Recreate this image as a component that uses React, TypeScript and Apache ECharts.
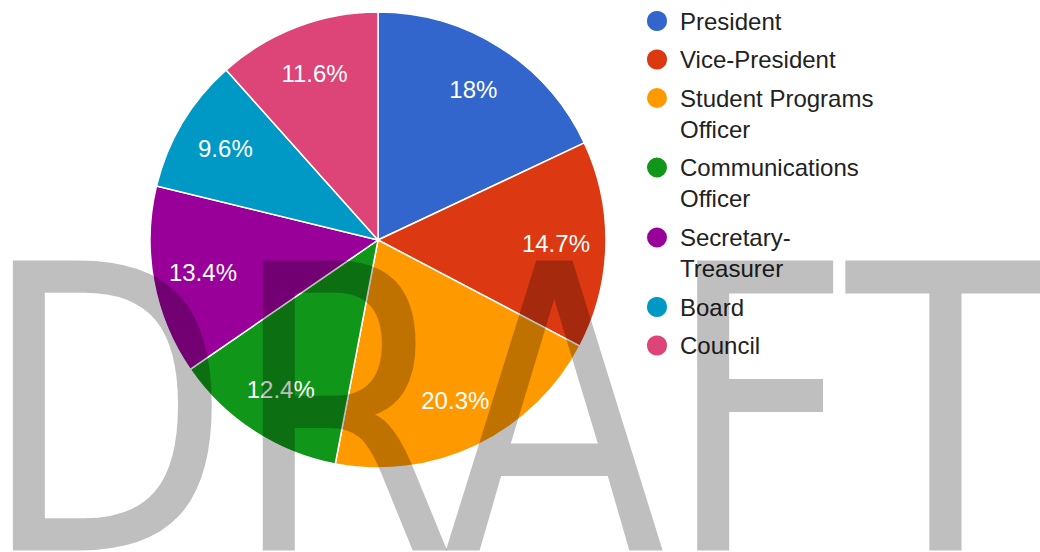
import React, { useEffect, useRef } from "react";
import * as echarts from "echarts";

// Share of the vote per office (percent)
const offices = [
  "President",
  "Vice-President",
  "Student Programs Officer",
  "Communications Officer",
  "Secretary-Treasurer",
  "Board",
  "Council",
];
const shares = [18, 14.7, 20.3, 12.4, 13.4, 9.6, 11.6];
const sliceColors = ["#3366cc", "#dc3912", "#ff9900", "#109618", "#990099", "#0099c6", "#dd4477"];

// Legend names broken onto two lines
const legendLines: Record<string, string> = {
  "Student Programs Officer": "Student Programs\nOfficer",
  "Communications Officer": "Communications\nOfficer",
  "Secretary-Treasurer": "Secretary-\nTreasurer",
};

// Vertical centre of each legend entry's first line
const legendRows = [21, 59.5, 98, 167.5, 237.5, 307, 345.5];

const FONT = '"Liberation Sans", Arial, sans-serif';
const LINE = 31;

// Dot at the top of a two-line entry: a 22px circle centred in a 36-wide box,
// with corner points so the box spans both text lines.
const TOP_DOT = "path://M0,0M36,53M7,11A11,11,0,1,1,29,11A11,11,0,1,1,7,11Z";

export default function App() {
  const ref = useRef<HTMLDivElement>(null);

  useEffect(() => {
    document.body.style.margin = "0";
    const chart = echarts.init(ref.current!, undefined, { renderer: "svg" });
    const data = offices.map((name, i) => ({ name, value: shares[i] }));

    const legends = offices.map((name, i) => {
      const wrapped = !!legendLines[name];
      return {
        orient: "vertical",
        left: wrapped ? 638 : 645,
        top: legendRows[i] - LINE / 2,
        padding: 0,
        itemWidth: 36,
        itemHeight: wrapped ? 22 + LINE : 22,
        icon: wrapped ? TOP_DOT : "circle",
        selectedMode: false,
        textStyle: { fontFamily: FONT, fontSize: 24, color: "#222222", lineHeight: LINE },
        formatter: (n: string) => legendLines[n] ?? n,
        data: [name],
      };
    });

    chart.setOption({
      animation: false,
      backgroundColor: "#ffffff",
      color: sliceColors,
      legend: legends,
      series: [
        {
          type: "pie",
          center: [378, 240],
          radius: [0, 228],
          startAngle: 90,
          clockwise: true,
          silent: true,
          label: { show: false },
          labelLine: { show: false },
          itemStyle: { borderColor: "#ffffff", borderWidth: 1.5 },
          data,
        },
        {
          // transparent ring that carries the percentage labels
          type: "pie",
          center: [378, 240],
          radius: [122, 228],
          startAngle: 90,
          clockwise: true,
          silent: true,
          itemStyle: { color: "transparent", borderWidth: 0 },
          label: {
            show: true,
            position: "inside",
            color: "#ffffff",
            fontFamily: FONT,
            fontSize: 24,
            formatter: (p: any) => `${p.value}%`,
          },
          labelLine: { show: false },
          data,
        },
      ],
      graphic: [
        {
          type: "text",
          x: -19,
          y: 413,
          scaleX: 1.008,
          scaleY: 1.236,
          z: 100,
          silent: true,
          style: {
            text: "DRAFT",
            fontFamily: '"DejaVu Sans"',
            fontSize: 322,
            fill: "rgba(0,0,0,0.25)",
            align: "left",
            verticalAlign: "middle",
          },
        },
      ],
    });
    return () => chart.dispose();
  }, []);

  return (
    <div
      ref={ref}
      style={{ position: "absolute", left: 0, top: 0, width: 1040, height: 552 }}
    />
  );
}
